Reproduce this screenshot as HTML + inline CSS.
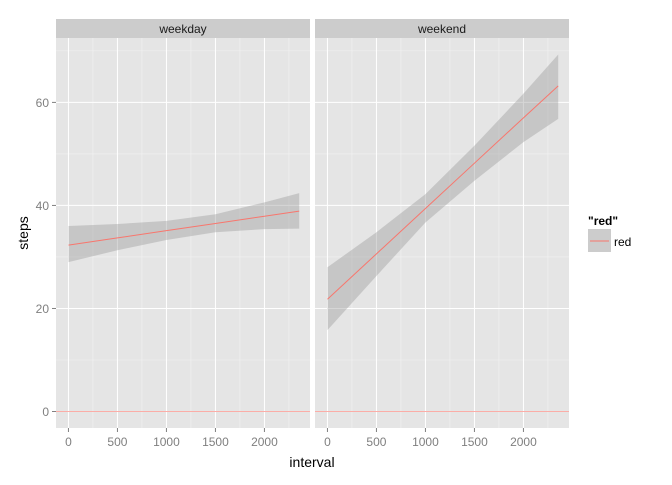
<!DOCTYPE html>
<html><head><meta charset="utf-8"><style>
body{margin:0;background:#fff;font-family:"Liberation Sans",Arial,sans-serif}
svg text{font-family:"Liberation Sans",Arial,sans-serif}
</style></head><body>
<svg id="chart" width="672" height="480" viewBox="0 0 672 480" xmlns="http://www.w3.org/2000/svg"></svg>
<script>
const panels = ["weekday","weekend"];
const xs = [0,500,1000,1500,2000,2355];
const weekdayFit = [32.3,33.7,35.1,36.5,37.9,38.9];
const weekdayLo = [29,31.3,33.3,34.8,35.4,35.5];
const weekdayHi = [36,36.4,37.0,38.3,40.6,42.4];
const weekendFit = [21.8,30.6,39.4,48.2,57.0,63.2];
const weekendLo = [15.8,26.3,36.7,44.8,52.3,56.8];
const weekendHi = [28.0,34.8,42.2,51.6,61.7,69.3];
const xTicks = [0,500,1000,1500,2000];
const yTicks = [0,20,40,60];
const fits=[weekdayFit,weekendFit], los=[weekdayLo,weekendLo], his=[weekdayHi,weekendHi];

const svg=document.getElementById('chart');
const NS='http://www.w3.org/2000/svg';
function mk(tag,attrs,parent){const e=document.createElementNS(NS,tag);for(const k in attrs)e.setAttribute(k,attrs[k]);(parent||svg).appendChild(e);return e;}
const panelX=[56,315], panelW=254, pTop=38, pBot=428;
const yMin=-3.2, yMax=72.5, xMin=-127, xMax=2465;
function Y(v){return pBot-(v-yMin)/(yMax-yMin)*(pBot-pTop);}
function X(p,v){return panelX[p]+(v-xMin)/(xMax-xMin)*panelW;}

panels.forEach((name,p)=>{
  const g=mk('g',{});
  
  
  const px=panelX[p];
  const bg=mk('rect',{x:px,y:pTop,width:panelW,height:pBot-pTop,fill:'#e5e5e5'},g);
  
  
  for(let v=-250;v<=2500;v+=500){if(v<xMin||v>xMax)continue;mk('line',{x1:X(p,v),x2:X(p,v),y1:pTop,y2:pBot,stroke:'#f2f2f2','stroke-width':0.6},g);}
  for(let v=10;v<=70;v+=20){mk('line',{x1:px,x2:px+panelW,y1:Y(v),y2:Y(v),stroke:'#f2f2f2','stroke-width':0.6},g);}
  xTicks.forEach(v=>{mk('line',{x1:X(p,v),x2:X(p,v),y1:pTop,y2:pBot,stroke:'#fff','stroke-width':1},g);
    mk('line',{x1:X(p,v),x2:X(p,v),y1:pBot,y2:pBot+4,stroke:'#7f7f7f','stroke-width':1},g);
    const t=mk('text',{x:X(p,v),y:pBot+18,'text-anchor':'middle','font-size':12,fill:'#7f7f7f'},g);t.textContent=v;
    
    });
  yTicks.forEach(v=>{mk('line',{x1:px,x2:px+panelW,y1:Y(v),y2:Y(v),stroke:'#fff','stroke-width':1},g);});
  let d='M'+xs.map((x,i)=>X(p,x)+','+Y(his[p][i])).join(' L');
  d+=' L'+xs.slice().reverse().map((x,i)=>X(p,x)+','+Y(los[p][xs.length-1-i])).join(' L')+'Z';
  const band=mk('path',{d:d,fill:'#999',opacity:0.4},g);
  
  
  const line=mk('polyline',{points:xs.map((x,i)=>X(p,x)+','+Y(fits[p][i])).join(' '),fill:'none',stroke:'#F8766D','stroke-width':1},g);
  
  
  const zero=mk('line',{x1:px,x2:px+panelW,y1:Y(0),y2:Y(0),stroke:'#F8766D','stroke-width':0.8,opacity:0.8},g);
  
  
  const strip=mk('rect',{x:px,y:19,width:panelW,height:19,fill:'#cccccc'},g);
  
  
  const st=mk('text',{x:px+panelW/2,y:33,'text-anchor':'middle','font-size':12,fill:'#1a1a1a'},g);st.textContent=name;
  
  
});
yTicks.forEach(v=>{
  mk('line',{x1:52,x2:56,y1:Y(v),y2:Y(v),stroke:'#7f7f7f','stroke-width':1});
  const t=mk('text',{x:49,y:Y(v)+4.5,'text-anchor':'end','font-size':12,fill:'#7f7f7f'});t.textContent=v;
  
  
});
const yt=mk('text',{x:0,y:0,transform:'translate(28,233) rotate(-90)','text-anchor':'middle','font-size':14,fill:'#000'});yt.textContent='steps';


const xt=mk('text',{x:312,y:467,'text-anchor':'middle','font-size':14,fill:'#000'});xt.textContent='interval';


const lg=mk('g',{});


const ltitle=mk('text',{x:588,y:225,'font-size':12,'font-weight':'bold',fill:'#000'},lg);ltitle.textContent='"red"';


const key=mk('rect',{x:588,y:229,width:23,height:23,fill:'#cccccc'},lg);


mk('line',{x1:590,x2:609,y1:241,y2:241,stroke:'#F8766D','stroke-width':1},lg);
const ll=mk('text',{x:614,y:246,'font-size':12,fill:'#000'},lg);ll.textContent='red';


</script>
</body></html>
